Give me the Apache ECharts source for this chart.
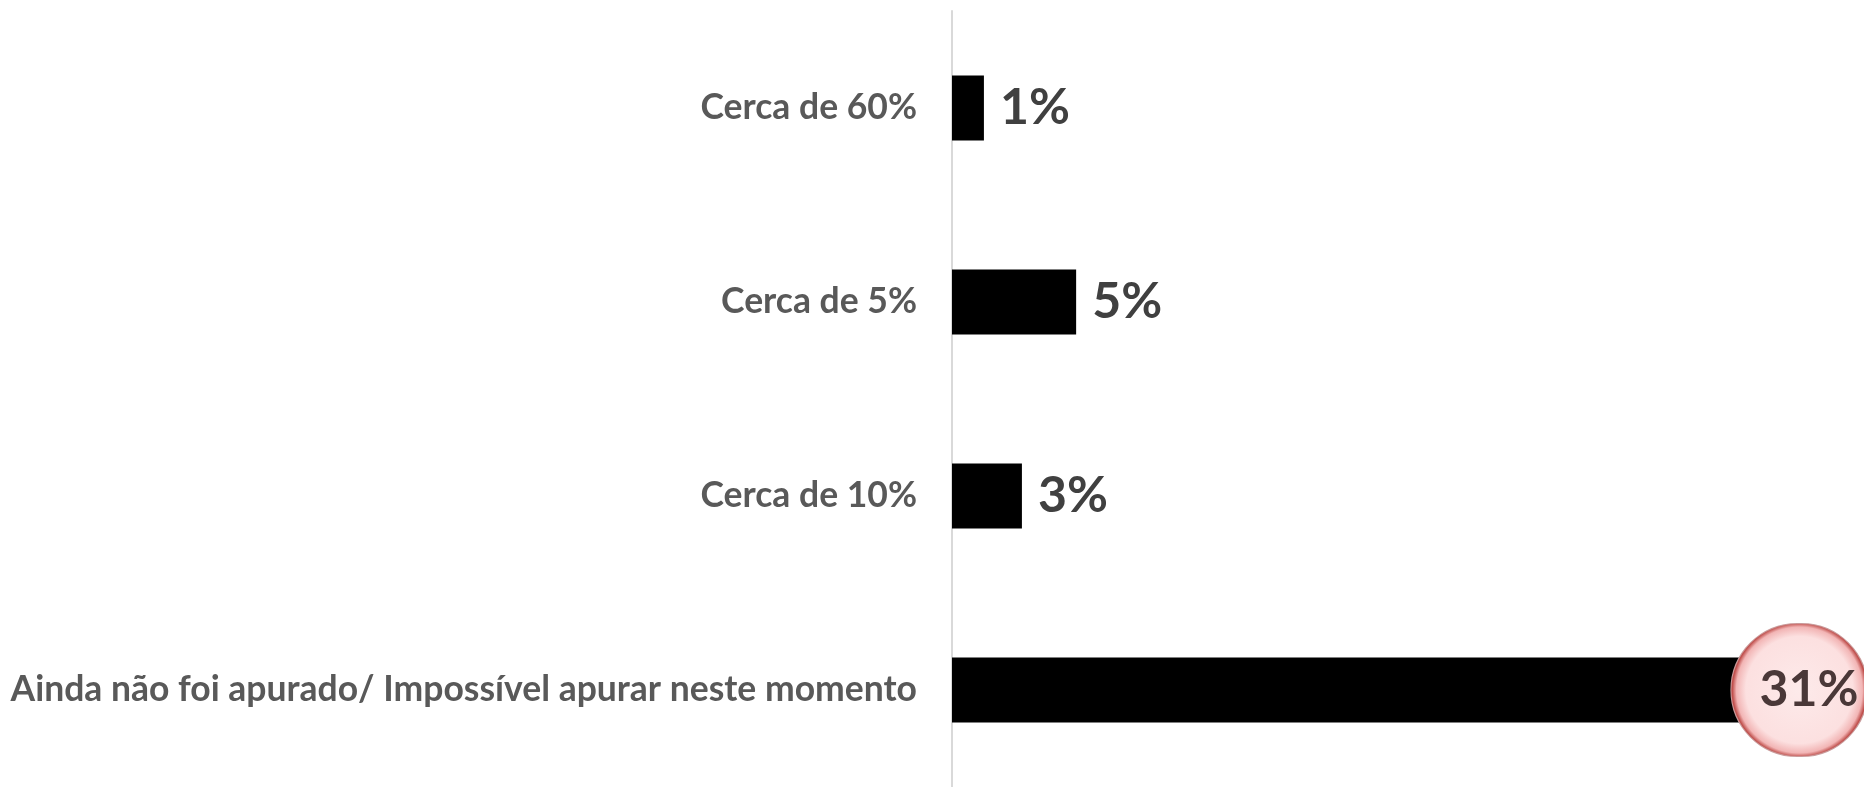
<!DOCTYPE html>
<html>
<head>
<meta charset="utf-8">
<script src="https://cdn.jsdelivr.net/npm/echarts@6/dist/echarts.min.js"></script>
<style>
html,body{margin:0;padding:0;background:#fff;}
#chart{width:1864px;height:787px;}
</style>
</head>
<body>
<div id="chart"></div>
<script>
// categorias, de cima para baixo
var categorias = ['Cerca de 60%', 'Cerca de 5%', 'Cerca de 10%', 'Ainda não foi apurado/ Impossível apurar neste momento'];
var valores = [1.26, 4.9, 2.76, 31.2];
var destaque = 3; // indice da barra com o circulo

function chartInit(id) {
    var chart = echarts.init(document.getElementById(id));
    var dados = valores.map(function (v, i) {
        var item = {value: v};
        if (i == destaque) {
            item.label = {
                distance: -11,
                color: '#4a3838',
                width: 108,
                height: 132,
                lineHeight: 132,
                padding: [0, 0, 0, 28],
                align: 'left',
                borderRadius: 66,
                borderColor: '#c99a9a',
                borderWidth: 1,
                backgroundColor: {
                    type: 'radial', x: 0.5, y: 0.5, r: 0.5,
                    colorStops: [
                        {offset: 0, color: '#fdeaea'},
                        {offset: 0.8, color: '#fce0e0'},
                        {offset: 0.94, color: '#f2b5b5'},
                        {offset: 1, color: '#c0504d'}
                    ]
                }
            };
        }
        return item;
    });
    var option = {
        animation: false,
        grid: {
            left: 952,
            right: 0,
            top: 11,
            bottom: -5
        },
        xAxis: {
            type: 'value',
            min: 0,
            max: 36,
            show: false
        },
        yAxis: {
            type: 'category',
            inverse: true,
            data: categorias,
            axisTick: {show: false},
            axisLine: {lineStyle: {color: '#d9d9d9', width: 2}},
            axisLabel: {
                margin: 35,
                color: '#595959',
                fontFamily: 'Lato',
                fontWeight: 'bold',
                fontSize: 35.5,
                padding: [4, 0, 0, 0]
            }
        },
        series: [{
            type: 'bar',
            barWidth: 65,
            itemStyle: {color: '#000000'},
            label: {
                show: true,
                position: 'right',
                distance: 16,
                color: '#404040',
                fontFamily: 'Lato',
                fontWeight: 'bold',
                fontSize: 50,
                padding: [4, 0, 0, 0],
                formatter: function (p) {
                    return Math.round(p.value) + '%';
                }
            },
            data: dados
        }]
    };
    chart.setOption(option);
}

chartInit('chart');
</script>
</body>
</html>
